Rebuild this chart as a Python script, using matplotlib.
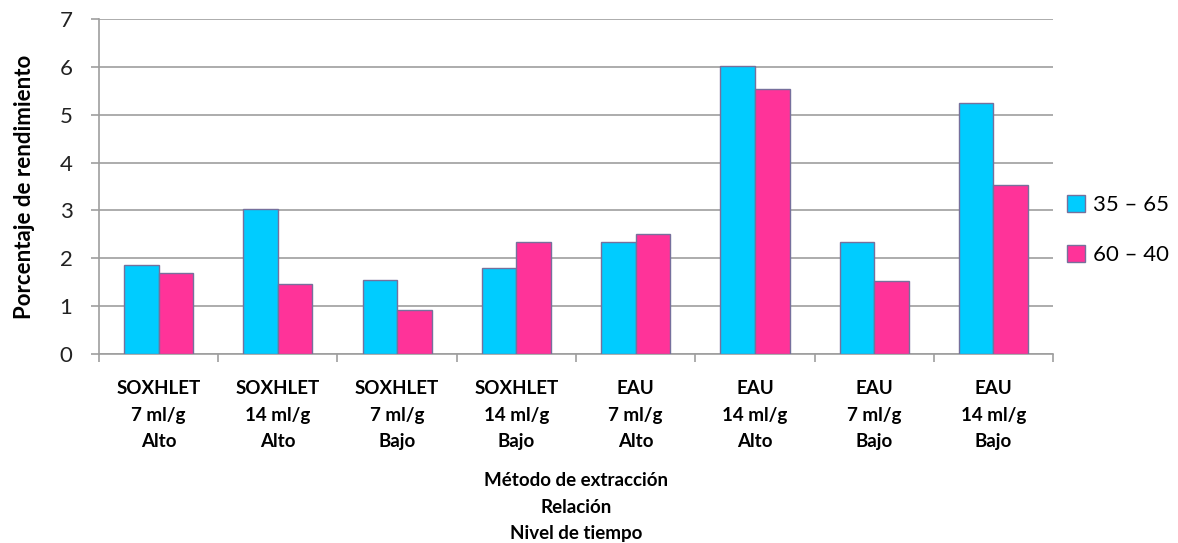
import matplotlib
matplotlib.use("Agg")
import matplotlib.pyplot as plt
import numpy as np

# Yield (%) by extraction method / solvent ratio / time level
categories = [
    "SOXHLET\n7 ml/g\nAlto",
    "SOXHLET\n14 ml/g\nAlto",
    "SOXHLET\n7 ml/g\nBajo",
    "SOXHLET\n14 ml/g\nBajo",
    "EAU\n7 ml/g\nAlto",
    "EAU\n14 ml/g\nAlto",
    "EAU\n7 ml/g\nBajo",
    "EAU\n14 ml/g\nBajo",
]
series_names = ["35 – 65", "60 – 40"]
serie_35_65 = [1.87, 3.02, 1.55, 1.79, 2.35, 6.01, 2.35, 5.24]
serie_60_40 = [1.69, 1.47, 0.93, 2.35, 2.51, 5.54, 1.53, 3.53]
y_ticks = [0, 1, 2, 3, 4, 5, 6, 7]

CYAN = "#00CCFF"
PINK = "#FF3399"
EDGE = "#76709C"
GRID = "#9E9E9E"
FONT = ["Lato", "DejaVu Sans"]

plt.rcParams["font.family"] = FONT

fig = plt.figure(figsize=(11.78, 5.43), dpi=100)
ax = fig.add_axes([0.084, 0.348, 0.81, 0.617])

x = np.arange(len(categories))
w = 0.29
ax.bar(x - w / 2, serie_35_65, width=w, color=CYAN, edgecolor=EDGE,
       linewidth=1.0, label=series_names[0], zorder=3)
ax.bar(x + w / 2, serie_60_40, width=w, color=PINK, edgecolor=EDGE,
       linewidth=1.0, label=series_names[1], zorder=3)

ax.set_xlim(-0.5, len(categories) - 0.5)
ax.set_ylim(0, 7)
ax.set_yticks(y_ticks)
ax.yaxis.grid(True, color=GRID, linewidth=1.2, zorder=0)
ax.set_axisbelow(True)

for side in ("top", "right"):
    ax.spines[side].set_visible(False)
for side in ("left", "bottom"):
    ax.spines[side].set_color(GRID)
    ax.spines[side].set_linewidth(1.2)

ax.tick_params(axis="y", length=6, width=1.2, color=GRID, pad=13,
               labelsize=16, labelcolor="#222222")

# category labels at centres, tick marks at category boundaries
ax.set_xticks(x)
ax.set_xticklabels(categories, fontsize=13.5, fontweight="bold",
                   linespacing=1.65)
ax.tick_params(axis="x", which="major", length=0, pad=19)
ax.set_xticks(np.arange(-0.5, len(categories), 1.0), minor=True)
ax.tick_params(axis="x", which="minor", length=6, width=1.2, color=GRID,
               direction="out")

ax.set_ylabel("Porcentaje de rendimiento", fontsize=16, fontweight="bold",
              labelpad=18)
ax.set_xlabel("Método de extracción\nRelación\nNivel de tiempo", fontsize=13.5,
              fontweight="bold", linespacing=1.7, labelpad=16)

leg = ax.legend(loc="center left", bbox_to_anchor=(0.994, 0.37), frameon=False,
                fontsize=16, handlelength=0.8, handleheight=0.8,
                handletextpad=0.35, labelspacing=1.35)
for h in leg.legend_handles:
    h.set_edgecolor(EDGE)

fig.savefig("out.png", dpi=100)
